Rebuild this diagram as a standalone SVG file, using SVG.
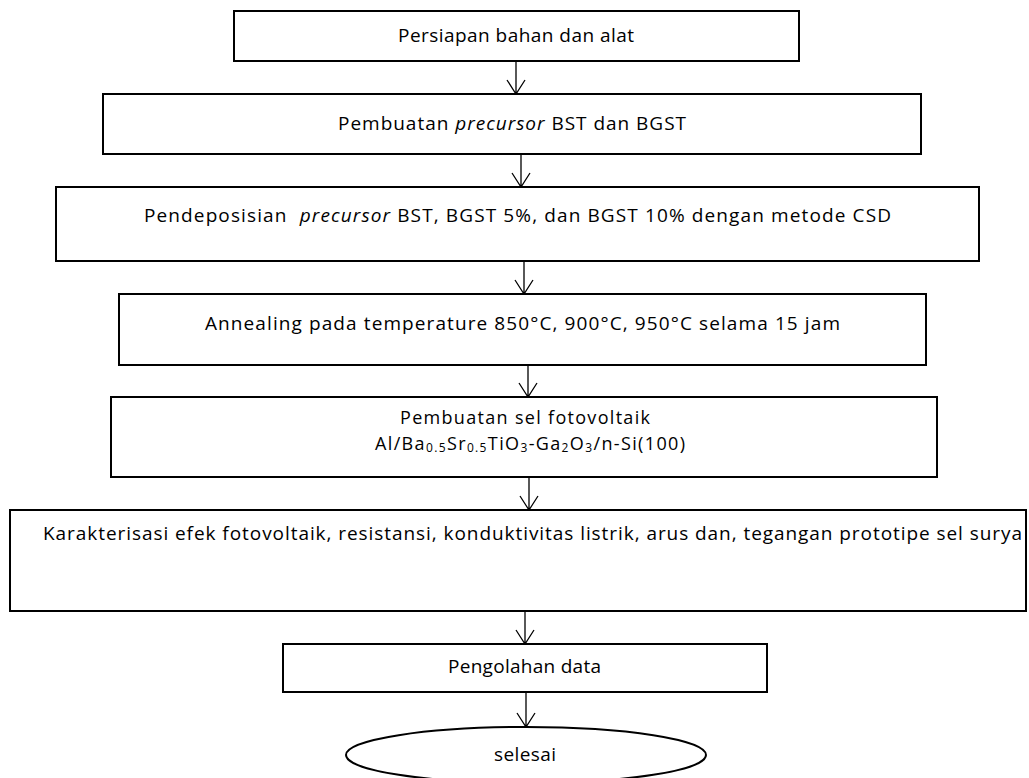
<svg xmlns="http://www.w3.org/2000/svg" width="1029" height="778" viewBox="0 0 1029 778">
<style>
.box{fill:#fff;stroke:#000;stroke-width:2}
.t{font-family:"Open Sans","Liberation Sans",Arial,sans-serif;font-size:19px;fill:#000}
.m{font-size:18px}
.i{font-style:italic}
.s{font-size:12px}
.c{stroke:#000;stroke-width:1.3;fill:none}
</style>
<rect width="1029" height="778" fill="#fff"/>
<g id="connectors">
<path class="c" d="M516 61V94M507 80L516 94L525 80"/>
<path class="c" d="M521 154V187M512 173L521 187L530 173"/>
<path class="c" d="M524 261V294M515 280L524 294L533 280"/>
<path class="c" d="M528 365V397M519 383L528 397L537 383"/>
<path class="c" d="M529 477V510M520 496L529 510L538 496"/>
<path class="c" d="M525 611V644M516 630L525 644L534 630"/>
<path class="c" d="M526 692V727M517 713L526 727L535 713"/>
</g>
<g id="n1"><rect class="box" x="234" y="11" width="565" height="50"/>
<text class="t" x="398" y="42" textLength="236">Persiapan bahan dan alat</text></g>
<g id="n2"><rect class="box" x="103" y="94" width="818" height="60"/>
<text class="t" x="338" y="130" textLength="348">Pembuatan <tspan class="i">precursor</tspan> BST dan BGST</text></g>
<g id="n3"><rect class="box" x="56" y="187" width="923" height="74"/>
<text class="t" x="144" y="222" textLength="747" xml:space="preserve">Pendeposisian  <tspan class="i">precursor</tspan> BST, BGST 5%, dan BGST 10% dengan metode CSD</text></g>
<g id="n4"><rect class="box" x="119" y="294" width="807" height="71"/>
<text class="t" x="205" y="330" textLength="635">Annealing pada temperature 850°C, 900°C, 950°C selama 15 jam</text></g>
<g id="n5"><rect class="box" x="111" y="397" width="826" height="80"/>
<text class="t m" x="400" y="424" textLength="250">Pembuatan sel fotovoltaik</text>
<text class="t m" x="375" y="450" textLength="310">Al/Ba<tspan class="s" dy="2">0.5</tspan><tspan dy="-2">Sr</tspan><tspan class="s" dy="2">0.5</tspan><tspan dy="-2">TiO</tspan><tspan class="s" dy="2">3</tspan><tspan dy="-2">-Ga</tspan><tspan class="s" dy="2">2</tspan><tspan dy="-2">O</tspan><tspan class="s" dy="2">3</tspan><tspan dy="-2">/n-Si(100)</tspan></text></g>
<g id="n6"><rect class="box" x="10" y="510" width="1016" height="101"/>
<text class="t" x="43" y="540" textLength="979">Karakterisasi efek fotovoltaik, resistansi, konduktivitas listrik, arus dan, tegangan prototipe sel surya</text></g>
<g id="n7"><rect class="box" x="283" y="644" width="484" height="48"/>
<text class="t" x="448" y="673" textLength="153">Pengolahan data</text></g>
<g id="n8"><ellipse class="box" cx="526" cy="755" rx="180" ry="28"/>
<text class="t" x="494" y="761" textLength="62">selesai</text></g>
</svg>
